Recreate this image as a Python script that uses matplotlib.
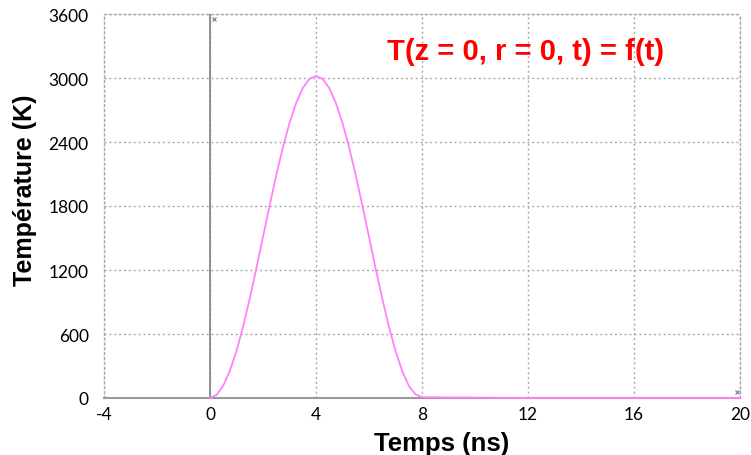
import matplotlib
matplotlib.use("Agg")
import matplotlib.pyplot as plt

plt.rcParams["axes.unicode_minus"] = False

# temperature at the centre versus time
temps_ns = [0, 0.25, 0.5, 0.75, 1, 1.25, 1.5, 1.75, 2, 2.25, 2.5, 2.75, 3, 3.25,
            3.5, 3.75, 4, 4.25, 4.5, 4.75, 5, 5.25, 5.5, 5.75, 6, 6.25, 6.5,
            6.75, 7, 7.25, 7.5, 7.75, 8, 9, 10, 11, 12, 16, 20]
temp_K = [0, 29, 115, 255, 442, 671, 932, 1216, 1510, 1804, 2088, 2349, 2578, 2765,
          2905, 2991, 3020, 2991, 2905, 2765, 2578, 2349, 2088, 1804, 1510, 1216,
          932, 671, 442, 255, 115, 35, 8, 5, 4, 2, 0, 0, 0]

xticks = [-4, 0, 4, 8, 12, 16, 20]
yticks = [0, 600, 1200, 1800, 2400, 3000, 3600]

fig = plt.figure(figsize=(7.51, 4.56), dpi=100)
ax = fig.add_axes([104/751, 1-399/456, 636/751, 384/456])

ax.set_xlim(-4, 20)
ax.set_ylim(0, 3600)
ax.set_xticks(xticks)
ax.set_yticks(yticks)
ax.tick_params(length=0, labelsize=12.5)
ax.tick_params(axis="y", pad=11)
ax.tick_params(axis="x", pad=6)
for lab in ax.get_xticklabels() + ax.get_yticklabels():
    lab.set_family("Lato")

# dotted grid + border
ax.grid(True, color="#aaaaaa", linestyle=(0, (1.5, 2)), linewidth=1)
for s in ["left", "top", "right"]:
    ax.spines[s].set_linestyle((0, (1.5, 2)))
    ax.spines[s].set_color("#aaaaaa")
    ax.spines[s].set_linewidth(1)
ax.spines["bottom"].set_color("#999999")
ax.spines["bottom"].set_linewidth(1.5)
ax.axvline(0, color="#888888", linewidth=1.3, zorder=3)

ax.plot(temps_ns, temp_K, color="#ff80ff", linewidth=1.3, zorder=4, clip_on=False)
# small axis end marks
ax.plot([0.15], [3550], marker="x", ms=2.5, color="#777777", mew=0.8, zorder=5)
ax.plot([19.9], [60], marker="x", ms=2.5, color="#777777", mew=0.8, zorder=5)

ax.set_xlabel("Temps (ns)", fontsize=18.5, fontweight="bold",
              family="Liberation Sans", labelpad=6)
ax.xaxis.label.set_x(0.531)
ax.set_ylabel("Température (K)", fontsize=18, fontweight="bold",
              family="Liberation Sans", labelpad=8)
ax.yaxis.label.set_y(0.544)

fig.text(526/751, 1-52/456, "T(z = 0, r = 0, t) = f(t)", color="red",
         fontsize=21, fontweight="bold", family="Liberation Sans",
         ha="center", va="center")

fig.savefig("out.png", dpi=100)
